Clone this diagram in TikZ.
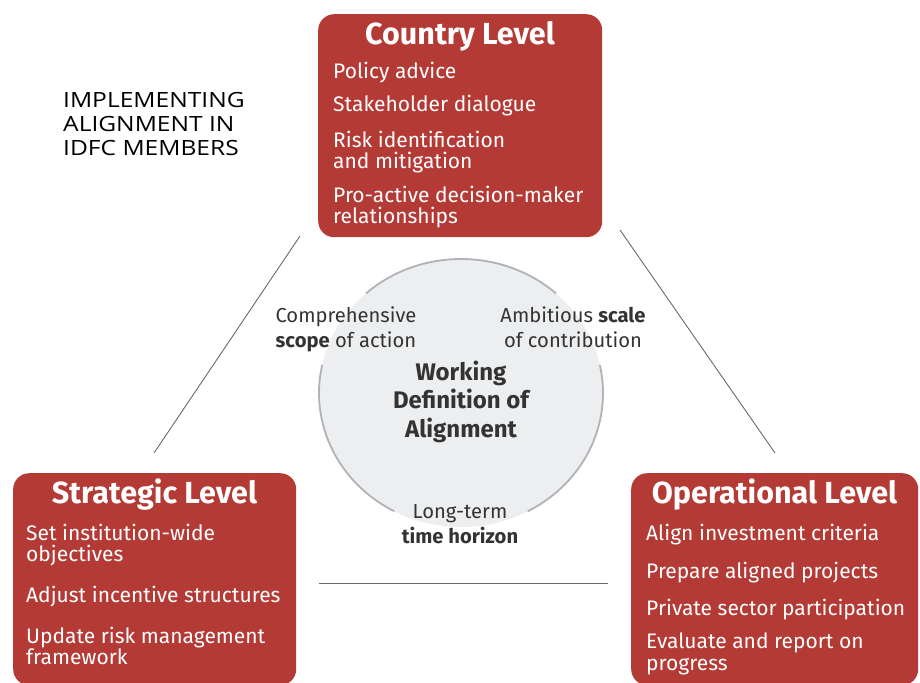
\documentclass[tikz,border=0pt]{standalone}
\usepackage{fontspec}
\usetikzlibrary{shapes.geometric}
\setmainfont{Fira Sans}
\newfontfamily\headfont[FakeStretch=1.17]{Open Sans}
\definecolor{boxred}{RGB}{180,58,54}
\definecolor{circfill}{RGB}{237,238,239}
\definecolor{circline}{RGB}{176,178,181}
\definecolor{txtgray}{RGB}{51,51,51}
\definecolor{linegray}{RGB}{105,105,105}
\begin{document}
\begin{tikzpicture}[x=1pt,y=-1pt,
  levelbox/.style={fill=boxred, rounded corners=16pt, inner sep=0pt, anchor=north west},
  boxtitle/.style={text=white, font=\fontsize{30.5}{33}\selectfont\bfseries, anchor=base, inner sep=0pt},
  itemline/.style={text=white, font=\fontsize{21}{24}\selectfont, anchor=base west, inner sep=0pt},
  headline/.style={text=black, font=\headfont\fontsize{21}{24}\selectfont, anchor=base west, inner sep=0pt},
  circlabel/.style={text=txtgray, font=\fontsize{20.2}{24}\selectfont, anchor=base, inner sep=0pt},
  circtitle/.style={text=txtgray, font=\fontsize{24}{28}\selectfont\bfseries, anchor=base, inner sep=0pt},
  sepline/.style={draw=linegray, line width=0.9pt},
  rim/.style={draw=circline, line width=1.8pt}
]
\path[use as bounding box] (0,0) rectangle (920,682);

% heading
\node[headline] (h1) at (63,108) {IMPLEMENTING};
\node[headline] (h2) at (63,131.5) {ALIGNMENT IN};
\node[headline] (h3) at (63,155) {IDFC MEMBERS};

% central circle
\coordinate (cc) at (461,393);
\node[fill=circfill, ellipse, minimum width=284pt, minimum height=268pt, inner sep=0pt] (circ) at (cc) {};
\draw[rim] ([shift={(-48:142 and 134)}]cc) arc[start angle=-48, end angle=-132, x radius=142, y radius=134];
\draw[rim] ([shift={(-12:142 and 134)}]cc) arc[start angle=-12, end angle=62, x radius=142, y radius=134];
\draw[rim] ([shift={(-168:142 and 134)}]cc) arc[start angle=-168, end angle=-242, x radius=142, y radius=134];

\node[circlabel] (s1) at (346,322) {Comprehensive};
\node[circlabel] (s2) at (346,347) {\textbf{scope} of action};
\node[circlabel] (a1) at (573,322) {Ambitious \textbf{scale}};
\node[circlabel] (a2) at (573,347) {of contribution};
\node[circtitle] (w1) at (461,380) {Working};
\node[circtitle] (w2) at (461,408.5) {Definition of};
\node[circtitle] (w3) at (461,437) {Alignment};
\node[circlabel] (t1) at (460,518) {Long-term};
\node[circlabel] (t2) at (460,543) {\textbf{time horizon}};

% connector lines
\coordinate (lA) at (300,236);
\coordinate (lB) at (154,453);
\coordinate (rA) at (620,230);
\coordinate (rB) at (775,453);
\coordinate (bA) at (319,583);
\coordinate (bB) at (608,583);
\draw[sepline] (lA) -- (lB);
\draw[sepline] (rA) -- (rB);
\draw[sepline] (bA) -- (bB);

% Country level
\node[levelbox, minimum width=284pt, minimum height=223pt] (country) at (318,14) {};
\node[boxtitle] (ct) at (460,45) {Country Level};
\node[itemline] (c1) at (333,79) {Policy advice};
\node[itemline] (c2) at (333,112) {Stakeholder dialogue};
\node[itemline] (c3) at (333,147) {Risk identification};
\node[itemline] (c4) at (333,168.5) {and mitigation};
\node[itemline] (c5) at (333,202) {Pro-active decision-maker};
\node[itemline] (c6) at (333,223.5) {relationships};

% Strategic level
\node[levelbox, minimum width=283pt, minimum height=212pt] (strategic) at (13,473) {};
\node[boxtitle] (st) at (154.5,503) {Strategic Level};
\node[itemline] (s3) at (26,540) {Set institution-wide};
\node[itemline] (s4) at (26,561.5) {objectives};
\node[itemline] (s5) at (26,602) {Adjust incentive structures};
\node[itemline] (s6) at (26,643) {Update risk management};
\node[itemline] (s7) at (26,664.5) {framework};

% Operational level
\node[levelbox, minimum width=287pt, minimum height=212pt] (operational) at (631,473) {};
\node[boxtitle] (ot) at (774.5,503) {Operational Level};
\node[itemline] (o1) at (646,540) {Align investment criteria};
\node[itemline] (o2) at (646,578) {Prepare aligned projects};
\node[itemline] (o3) at (646,615) {Private sector participation};
\node[itemline] (o4) at (646,648) {Evaluate and report on};
\node[itemline] (o5) at (646,670) {progress};
\end{tikzpicture}
\end{document}
